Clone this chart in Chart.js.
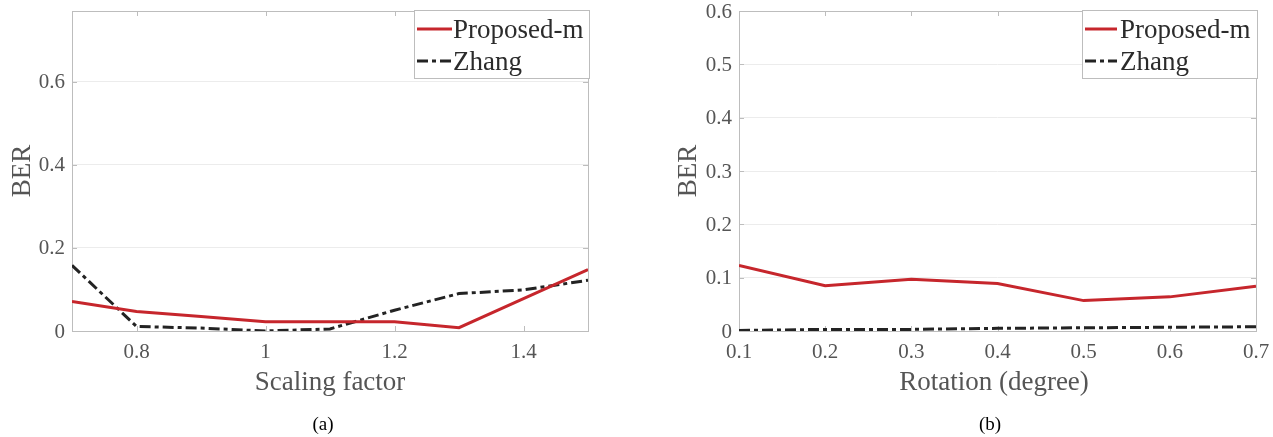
<!DOCTYPE html>
<html>
<head>
<meta charset="utf-8">
<script src="https://cdn.jsdelivr.net/npm/chart.js@4.4.0/dist/chart.umd.min.js"></script>
<style>
  html, body { margin: 0; padding: 0; background: #ffffff; }
  #wrap { position: relative; width: 1273px; height: 437px; }
  .pane { position: absolute; left: 0; top: 0; width: 1273px; height: 437px; }
</style>
</head>
<body>
<div id="wrap">
  <div class="pane"><canvas id="scaleChart"></canvas></div>
  <div class="pane"><canvas id="rotChart"></canvas></div>
</div>
<script>
// (a) BER against scaling factor
const scalingFactors   = [0.7, 0.8, 0.9, 1.0, 1.1, 1.2, 1.3, 1.4, 1.5];
const berProposedScale = [0.071, 0.047, 0.035, 0.022, 0.022, 0.022, 0.008, 0.078, 0.148];
const berZhangScale    = [0.158, 0.011, 0.007, 0.000, 0.005, 0.050, 0.090, 0.099, 0.122];
const scaleXTicks = [0.8, 1, 1.2, 1.4];
const scaleYTicks = [0, 0.2, 0.4, 0.6];

// (b) BER against rotation angle
const rotationDegrees = [0.1, 0.2, 0.3, 0.4, 0.5, 0.6, 0.7];
const berProposedRot  = [0.123, 0.085, 0.097, 0.089, 0.057, 0.064, 0.084];
const berZhangRot     = [0.001, 0.003, 0.003, 0.005, 0.006, 0.007, 0.008];
const rotXTicks = [0.1, 0.2, 0.3, 0.4, 0.5, 0.6, 0.7];
const rotYTicks = [0, 0.1, 0.2, 0.3, 0.4, 0.5, 0.6];

const seriesNames = ['Proposed-m', 'Zhang'];

const W = 1273, H = 437;
const SERIF = '"Liberation Serif", "Times New Roman", serif';
const RED = '#c6262c';
const DARK = '#232323';
const ZHANG_DASH = [11, 4, 4, 4];
const AXIS_GREY = '#bdbdbd';
const TEXT_GREY = '#555555';

// Box outline with inward tick marks on all four sides
const framePlugin = {
  id: 'frame',
  beforeDatasetsDraw(chart) {
    const { ctx, chartArea: a, scales } = chart;
    ctx.save();
    ctx.strokeStyle = AXIS_GREY;
    ctx.lineWidth = 1;
    ctx.strokeRect(Math.round(a.left) + 0.5, Math.round(a.top) + 0.5,
                   Math.round(a.right - a.left), Math.round(a.bottom - a.top));
    const tl = 5;
    ctx.beginPath();
    scales.x.ticks.forEach(t => {
      const px = Math.round(scales.x.getPixelForValue(t.value)) + 0.5;
      ctx.moveTo(px, a.bottom); ctx.lineTo(px, a.bottom - tl);
      ctx.moveTo(px, a.top);    ctx.lineTo(px, a.top + tl);
    });
    scales.y.ticks.forEach(t => {
      const py = Math.round(scales.y.getPixelForValue(t.value)) + 0.5;
      ctx.moveTo(a.left, py);  ctx.lineTo(a.left + tl, py);
      ctx.moveTo(a.right, py); ctx.lineTo(a.right - tl, py);
    });
    ctx.stroke();
    ctx.restore();
  }
};

// Axis titles, sub-figure caption and the boxed legend
const annotatePlugin = {
  id: 'annotate',
  afterDraw(chart, args, o) {
    const { ctx } = chart;
    ctx.save();
    // x title
    ctx.font = '27px ' + SERIF;
    ctx.fillStyle = TEXT_GREY;
    ctx.textAlign = 'center';
    ctx.textBaseline = 'alphabetic';
    ctx.fillText(o.xTitle, o.xTitleX, o.xTitleY);
    // y title
    ctx.save();
    ctx.translate(o.yTitleX, o.yTitleY);
    ctx.rotate(-Math.PI / 2);
    ctx.fillText(o.yTitle, 0, 0);
    ctx.restore();
    // caption
    ctx.font = '19px ' + SERIF;
    ctx.fillStyle = '#000000';
    ctx.fillText(o.caption, o.captionX, o.captionY);
    // legend
    const L = o.legend;
    ctx.fillStyle = '#ffffff';
    ctx.fillRect(L.left, L.top, L.right - L.left, L.bottom - L.top);
    ctx.strokeStyle = AXIS_GREY;
    ctx.lineWidth = 1;
    ctx.strokeRect(L.left + 0.5, L.top + 0.5, L.right - L.left, L.bottom - L.top);
    ctx.font = '27px ' + SERIF;
    ctx.textAlign = 'left';
    chart.data.datasets.forEach((ds, i) => {
      const rowY = L.rows[i];
      ctx.save();
      ctx.strokeStyle = ds.borderColor;
      ctx.lineWidth = ds.borderWidth;
      ctx.setLineDash(ds.borderDash || []);
      ctx.beginPath();
      ctx.moveTo(L.sampleX0, rowY);
      ctx.lineTo(L.sampleX1, rowY);
      ctx.stroke();
      ctx.restore();
      ctx.fillStyle = '#2b2b2b';
      ctx.fillText(ds.label, L.textX, rowY + 9);
    });
    ctx.restore();
  }
};

function buildChart(id, cfg) {
  const yAxisW = 72;
  const pts = (xs, ys) => xs.map((x, i) => ({ x: x, y: ys[i] }));
  return new Chart(document.getElementById(id), {
    type: 'line',
    data: {
      datasets: [
        { label: seriesNames[0], data: pts(cfg.xs, cfg.proposed), borderColor: RED,
          borderWidth: 3, pointRadius: 0, tension: 0, borderCapStyle: 'butt' },
        { label: seriesNames[1], data: pts(cfg.xs, cfg.zhang), borderColor: DARK,
          borderWidth: 3, borderDash: ZHANG_DASH, pointRadius: 0, tension: 0, borderCapStyle: 'butt' }
      ]
    },
    options: {
      responsive: true,
      maintainAspectRatio: false,
      animation: false,
      devicePixelRatio: 1,
      events: [],
      layout: { padding: { left: cfg.box.left - yAxisW, top: cfg.box.top, right: W - cfg.box.right, bottom: 0 } },
      plugins: {
        legend: { display: false },
        tooltip: { enabled: false },
        annotate: cfg.annot
      },
      scales: {
        x: {
          type: 'linear',
          min: cfg.xMin, max: cfg.xMax,
          afterBuildTicks: s => { s.ticks = cfg.xTicks.map(v => ({ value: v })); },
          afterFit: s => { s.height = H - cfg.box.bottom; s.paddingLeft = 0; s.paddingRight = 0; },
          grid: { display: false, drawTicks: false },
          border: { display: false },
          ticks: { autoSkip: false, maxRotation: 0, padding: 11, color: TEXT_GREY,
                   font: { family: SERIF, size: 21, lineHeight: 1.0 },
                   callback: v => String(v) }
        },
        y: {
          type: 'linear',
          min: cfg.yMin, max: cfg.yMax,
          afterBuildTicks: s => { s.ticks = cfg.yTicks.map(v => ({ value: v })); },
          afterFit: s => { s.width = yAxisW; s.paddingTop = 0; s.paddingBottom = 0; },
          grid: { display: true, drawTicks: false, color: '#ececec', lineWidth: 1 },
          border: { display: false },
          ticks: { autoSkip: false, padding: 7, labelOffset: 1, color: TEXT_GREY,
                   font: { family: SERIF, size: 21, lineHeight: 1.0 },
                   callback: v => String(v) }
        }
      }
    },
    plugins: [framePlugin, annotatePlugin]
  });
}

buildChart('scaleChart', {
  xs: scalingFactors, proposed: berProposedScale, zhang: berZhangScale,
  xTicks: scaleXTicks, yTicks: scaleYTicks,
  xMin: 0.7, xMax: 1.5, yMin: 0, yMax: 0.77,
  box: { left: 72, right: 588, top: 11, bottom: 331 },
  annot: {
    xTitle: 'Scaling factor', xTitleX: 330, xTitleY: 390,
    yTitle: 'BER', yTitleX: 30, yTitleY: 171,
    caption: '(a)', captionX: 323, captionY: 430,
    legend: { left: 414, right: 589, top: 10, bottom: 78, rows: [29, 61],
              sampleX0: 417, sampleX1: 452, textX: 453 }
  }
});

buildChart('rotChart', {
  xs: rotationDegrees, proposed: berProposedRot, zhang: berZhangRot,
  xTicks: rotXTicks, yTicks: rotYTicks,
  xMin: 0.1, xMax: 0.7, yMin: 0, yMax: 0.6,
  box: { left: 739, right: 1256, top: 11, bottom: 331 },
  annot: {
    xTitle: 'Rotation (degree)', xTitleX: 994, xTitleY: 390,
    yTitle: 'BER', yTitleX: 696, yTitleY: 171,
    caption: '(b)', captionX: 990, captionY: 430,
    legend: { left: 1082, right: 1257, top: 10, bottom: 78, rows: [29, 61],
              sampleX0: 1085, sampleX1: 1117, textX: 1120 }
  }
});
</script>
</body>
</html>
